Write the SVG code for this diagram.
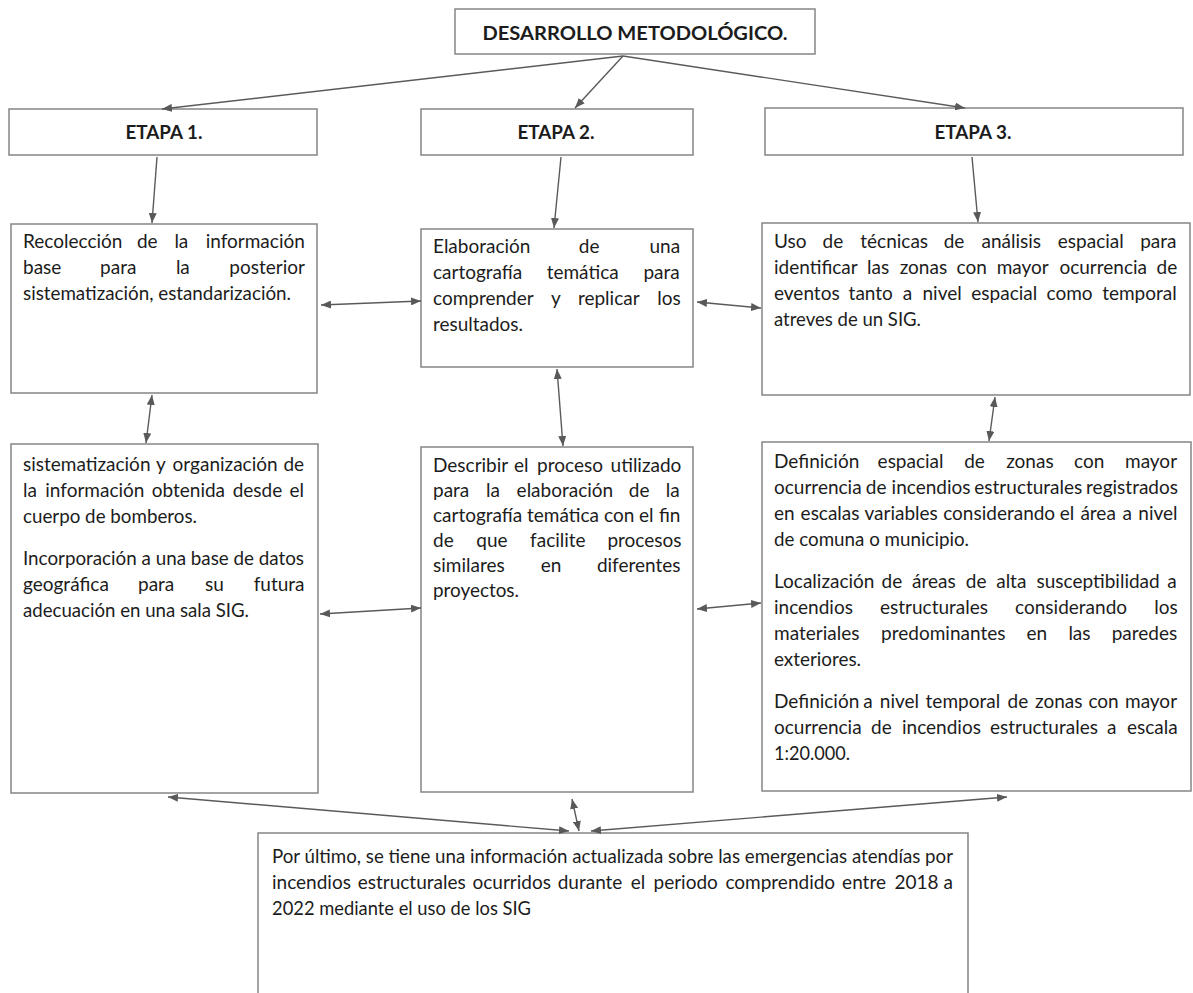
<svg xmlns="http://www.w3.org/2000/svg" width="1193" height="993" viewBox="0 0 1193 993">
<defs>
<marker id="ah" viewBox="0 0 10 8" refX="10" refY="4" markerWidth="10" markerHeight="8" markerUnits="userSpaceOnUse" orient="auto-start-reverse">
<path d="M0,0 L10,4 L0,8 z" fill="#595959"/>
</marker>
<style>
.box{fill:#fff;stroke:#858585;stroke-width:1.5}
.t{font-family:Lato,"Liberation Sans",sans-serif;font-size:19px;fill:#1c1c1c}
.h{font-family:Lato,"Liberation Sans",sans-serif;font-size:18px;font-weight:bold;fill:#1c1c1c;text-anchor:middle}
.c line{stroke:#5a5a5a;stroke-width:1.4;fill:none;marker-end:url(#ah)}
.c line.d{marker-start:url(#ah)}
</style>
</defs>
<rect width="1193" height="993" fill="#fff"/>

<g id="title">
<rect class="box" x="455" y="9" width="360" height="45"/>
<text class="h" x="635" y="40" font-size="20" textLength="305" lengthAdjust="spacingAndGlyphs">DESARROLLO METODOLÓGICO.</text>
</g>

<g id="etapa1">
<rect class="box" x="9" y="109" width="308" height="46"/>
<text class="h" x="164" y="139" textLength="77" lengthAdjust="spacingAndGlyphs">ETAPA 1.</text>
</g>
<g id="etapa2">
<rect class="box" x="421" y="109" width="272" height="46"/>
<text class="h" x="556" y="139" textLength="77" lengthAdjust="spacingAndGlyphs">ETAPA 2.</text>
</g>
<g id="etapa3">
<rect class="box" x="765" y="108" width="418" height="47"/>
<text class="h" x="973" y="139" textLength="77" lengthAdjust="spacingAndGlyphs">ETAPA 3.</text>
</g>

<g id="a1">
<rect class="box" x="11" y="224" width="306" height="169"/>
<text class="t" y="248"><tspan x="23">Recolección</tspan> <tspan x="136.9">de</tspan> <tspan x="174.4">la</tspan> <tspan x="205.7">información</tspan></text>
<text class="t" y="274"><tspan x="23">base</tspan> <tspan x="100.1">para</tspan> <tspan x="175.9">la</tspan> <tspan x="229.3">posterior</tspan></text>
<text class="t" x="23" y="300" textLength="268" lengthAdjust="spacingAndGlyphs">sistematización, estandarización.</text>
</g>

<g id="b1">
<rect class="box" x="421" y="229" width="272" height="138"/>
<text class="t" y="253"><tspan x="433">Elaboración</tspan> <tspan x="578.8">de</tspan> <tspan x="649.5">una</tspan></text>
<text class="t" y="279"><tspan x="433">cartografía</tspan> <tspan x="546.7">temática</tspan> <tspan x="643.4">para</tspan></text>
<text class="t" y="305"><tspan x="433">comprender</tspan> <tspan x="551.1">y</tspan> <tspan x="577.9">replicar</tspan> <tspan x="657.2">los</tspan></text>
<text class="t" x="433" y="331" textLength="90" lengthAdjust="spacingAndGlyphs">resultados.</text>
</g>

<g id="c1">
<rect class="box" x="762" y="223" width="428" height="172"/>
<text class="t" y="248"><tspan x="774">Uso</tspan> <tspan x="822.5">de</tspan> <tspan x="860.3">técnicas</tspan> <tspan x="943.7">de</tspan> <tspan x="981.5">análisis</tspan> <tspan x="1057.8">espacial</tspan> <tspan x="1140.2">para</tspan></text>
<text class="t" y="274"><tspan x="774">identificar</tspan> <tspan x="867.1">las</tspan> <tspan x="899.7">zonas</tspan> <tspan x="956.6">con</tspan> <tspan x="996.7">mayor</tspan> <tspan x="1059.4">ocurrencia</tspan> <tspan x="1156.5">de</tspan></text>
<text class="t" y="300"><tspan x="774">eventos</tspan> <tspan x="848.6">tanto</tspan> <tspan x="902.8">a</tspan> <tspan x="922.5">nivel</tspan> <tspan x="971.3">espacial</tspan> <tspan x="1046.5">como</tspan> <tspan x="1102.2">temporal</tspan></text>
<text class="t" x="774" y="326" textLength="147" lengthAdjust="spacingAndGlyphs">atreves de un SIG.</text>
</g>

<g id="a2">
<rect class="box" x="11" y="444" width="307" height="349"/>
<text class="t" y="471"><tspan x="23">sistematización</tspan> <tspan x="155.9">y</tspan> <tspan x="172.6">organización</tspan> <tspan x="283.4">de</tspan></text>
<text class="t" y="497"><tspan x="23">la</tspan> <tspan x="45.3">información</tspan> <tspan x="151.7">obtenida</tspan> <tspan x="232.7">desde</tspan> <tspan x="289.5">el</tspan></text>
<text class="t" x="23" y="523" textLength="174" lengthAdjust="spacingAndGlyphs">cuerpo de bomberos.</text>
<text class="t" x="23" y="565" textLength="281" lengthAdjust="spacingAndGlyphs">Incorporación a una base de datos</text>
<text class="t" y="591"><tspan x="23">geográfica</tspan> <tspan x="138">para</tspan> <tspan x="205">su</tspan> <tspan x="253.7">futura</tspan></text>
<text class="t" x="23" y="617" textLength="226" lengthAdjust="spacingAndGlyphs">adecuación en una sala SIG.</text>
</g>

<g id="b2">
<rect class="box" x="421" y="447" width="272" height="345"/>
<text class="t" y="472"><tspan x="433">Describir</tspan> <tspan x="513.9">el</tspan> <tspan x="537.1">proceso</tspan> <tspan x="610.6">utilizado</tspan></text>
<text class="t" y="497"><tspan x="433">para</tspan> <tspan x="486">la</tspan> <tspan x="516.6">elaboración</tspan> <tspan x="628.8">de</tspan> <tspan x="665.7">la</tspan></text>
<text class="t" y="522"><tspan x="433">cartografía</tspan> <tspan x="527">temática</tspan> <tspan x="604">con</tspan> <tspan x="638.9">el</tspan> <tspan x="658.9">fin</tspan></text>
<text class="t" y="547"><tspan x="433">de</tspan> <tspan x="476.3">que</tspan> <tspan x="530.1">facilite</tspan> <tspan x="607.4">procesos</tspan></text>
<text class="t" y="572"><tspan x="433">similares</tspan> <tspan x="540.7">en</tspan> <tspan x="596.9">diferentes</tspan></text>
<text class="t" x="433" y="597" textLength="86" lengthAdjust="spacingAndGlyphs">proyectos.</text>
</g>

<g id="c2">
<rect class="box" x="762" y="442" width="429" height="349"/>
<text class="t" y="468"><tspan x="774">Definición</tspan> <tspan x="877.6">espacial</tspan> <tspan x="964.2">de</tspan> <tspan x="1006.2">zonas</tspan> <tspan x="1074">con</tspan> <tspan x="1125">mayor</tspan></text>
<text class="t" y="494"><tspan x="774">ocurrencia</tspan> <tspan x="865.8">de</tspan> <tspan x="891.6">incendios</tspan> <tspan x="974.3">estructurales</tspan> <tspan x="1086.1">registrados</tspan></text>
<text class="t" y="520"><tspan x="774">en</tspan> <tspan x="800.6">escalas</tspan> <tspan x="864.5">variables</tspan> <tspan x="943.2">considerando</tspan> <tspan x="1059.8">el</tspan> <tspan x="1080.4">área</tspan> <tspan x="1122.6">a</tspan> <tspan x="1138.3">nivel</tspan></text>
<text class="t" x="774" y="546" textLength="195" lengthAdjust="spacingAndGlyphs">de comuna o municipio.</text>
<text class="t" y="588"><tspan x="774">Localización</tspan> <tspan x="881.6">de</tspan> <tspan x="912">áreas</tspan> <tspan x="965.8">de</tspan> <tspan x="996.2">alta</tspan> <tspan x="1036.5">susceptibilidad</tspan> <tspan x="1167.3">a</tspan></text>
<text class="t" y="614"><tspan x="774">incendios</tspan> <tspan x="880">estructurales</tspan> <tspan x="1015.1">considerando</tspan> <tspan x="1154.2">los</tspan></text>
<text class="t" y="640"><tspan x="774">materiales</tspan> <tspan x="881.1">predominantes</tspan> <tspan x="1026.5">en</tspan> <tspan x="1068.4">las</tspan> <tspan x="1111.7">paredes</tspan></text>
<text class="t" x="774" y="666" textLength="87" lengthAdjust="spacingAndGlyphs">exteriores.</text>
<text class="t" y="708"><tspan x="774">Definición</tspan> <tspan x="863.2">a</tspan> <tspan x="879.8">nivel</tspan> <tspan x="925.6">temporal</tspan> <tspan x="1007.5">de</tspan> <tspan x="1035">zonas</tspan> <tspan x="1088.4">con</tspan> <tspan x="1125">mayor</tspan></text>
<text class="t" y="734"><tspan x="774">ocurrencia</tspan> <tspan x="871">de</tspan> <tspan x="902">incendios</tspan> <tspan x="989.9">estructurales</tspan> <tspan x="1106.9">a</tspan> <tspan x="1127">escala</tspan></text>
<text class="t" x="774" y="760" textLength="76" lengthAdjust="spacingAndGlyphs">1:20.000.</text>
</g>

<g id="final">
<rect class="box" x="258" y="833" width="710" height="180"/>
<text class="t" x="272" y="863" textLength="681" lengthAdjust="spacingAndGlyphs">Por último, se tiene una información actualizada sobre las emergencias atendías por</text>
<text class="t" y="889"><tspan x="272">incendios</tspan> <tspan x="357.7">estructurales</tspan> <tspan x="472.5">ocurridos</tspan> <tspan x="557.7">durante</tspan> <tspan x="630.7">el</tspan> <tspan x="653.5">periodo</tspan> <tspan x="725.4">comprendido</tspan> <tspan x="842.1">entre</tspan> <tspan x="894.5">2018</tspan> <tspan x="943.4">a</tspan></text>
<text class="t" x="272" y="915" textLength="259" lengthAdjust="spacingAndGlyphs">2022 mediante el uso de los SIG</text>
</g>

<g id="connectors" class="c">
<line x1="623" y1="56" x2="162" y2="109"/>
<line x1="623" y1="56" x2="575" y2="108"/>
<line x1="623" y1="56" x2="965" y2="108"/>
<line x1="157" y1="157" x2="152" y2="223"/>
<line x1="561" y1="157" x2="554" y2="228"/>
<line x1="972" y1="157" x2="978" y2="222"/>
<line class="d" x1="321" y1="305" x2="421" y2="301"/>
<line class="d" x1="697" y1="302" x2="761" y2="308"/>
<line class="d" x1="152" y1="395" x2="146" y2="443"/>
<line class="d" x1="557" y1="369" x2="563" y2="446"/>
<line class="d" x1="995" y1="397" x2="989" y2="441"/>
<line class="d" x1="320" y1="614" x2="421" y2="608"/>
<line class="d" x1="697" y1="609" x2="761" y2="603"/>
<line class="d" x1="168" y1="797" x2="569" y2="831"/>
<line class="d" x1="572" y1="799" x2="579" y2="831"/>
<line class="d" x1="1007" y1="797" x2="591" y2="831"/>
</g>
</svg>
